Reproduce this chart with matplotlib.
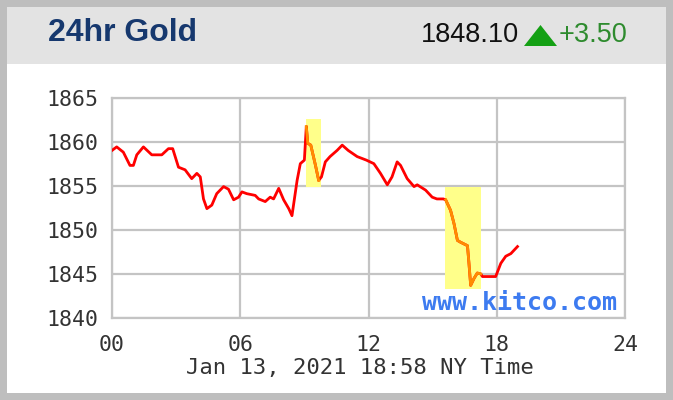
import matplotlib
matplotlib.use("Agg")
import matplotlib.pyplot as plt
from matplotlib.patches import Rectangle, Polygon

# 24hr gold price (hour, price)
horas = [0.0, 0.22, 0.53, 0.84, 1.0, 1.16, 1.47, 1.86, 2.33, 2.64, 2.84, 3.11, 3.42,
         3.73, 3.97, 4.13, 4.28, 4.44, 4.67, 4.9, 5.22, 5.45, 5.69, 5.92, 6.08, 6.3,
         6.7, 6.86, 7.17, 7.4, 7.56, 7.8, 8.03, 8.27, 8.42, 8.66, 8.81, 9.0, 9.09,
         9.16, 9.3, 9.52, 9.67, 9.8, 9.98, 10.2, 10.53, 10.77, 11.05, 11.47, 11.9,
         12.25, 12.56, 12.88, 13.1, 13.34, 13.5, 13.81, 14.13, 14.28, 14.67, 14.98,
         15.2, 15.5, 15.61, 15.84, 16.0, 16.16, 16.3, 16.63, 16.7, 16.78, 16.94,
         17.09, 17.25, 17.33, 17.95, 18.19, 18.42, 18.66, 18.97]
precio = [1859.0, 1859.4, 1858.8, 1857.3, 1857.3, 1858.5, 1859.4, 1858.5, 1858.5,
          1859.2, 1859.2, 1857.1, 1856.8, 1855.8, 1856.4, 1856.0, 1853.5, 1852.4,
          1852.8, 1854.1, 1854.9, 1854.6, 1853.4, 1853.7, 1854.3, 1854.1, 1853.9,
          1853.5, 1853.2, 1853.7, 1853.5, 1854.7, 1853.4, 1852.4, 1851.6, 1855.6,
          1857.5, 1857.9, 1861.7, 1859.8, 1859.6, 1857.3, 1855.6, 1856.0, 1857.7,
          1858.3, 1859.0, 1859.6, 1859.0, 1858.3, 1857.9, 1857.5, 1856.4, 1855.1,
          1856.0, 1857.7, 1857.3, 1855.8, 1854.9, 1855.1, 1854.5, 1853.7, 1853.5,
          1853.5, 1853.4, 1852.2, 1850.7, 1848.8, 1848.6, 1848.2, 1846.2, 1843.7,
          1844.5, 1845.1, 1845.0, 1844.7, 1844.7, 1846.2, 1847.0, 1847.3, 1848.1]

# zonas resaltadas (hora inicio, hora fin, precio min, precio max)
zonas = [(9.08, 9.78, 1854.9, 1862.6), (15.56, 17.28, 1843.3, 1854.9)]

x_ticks = [0, 6, 12, 18, 24]
x_labels = ["00", "06", "12", "18", "24"]
y_ticks = [1840, 1845, 1850, 1855, 1860, 1865]

titulo = "24hr Gold"
ultimo = "1848.10"
cambio = "+3.50"
fecha = "Jan 13, 2021 18:58 NY Time"

W, H = 673, 400
fig = plt.figure(figsize=(W / 100, H / 100), dpi=100)
fig.patch.set_facecolor("#bebebe")

# fondo blanco y franja gris del encabezado
fig.patches.append(Rectangle((7 / W, 7 / H), (W - 14) / W, (H - 14) / H,
                             transform=fig.transFigure, facecolor="white",
                             edgecolor="none", zorder=-2))
fig.patches.append(Rectangle((7 / W, (H - 64) / H), (W - 14) / W, 57 / H,
                             transform=fig.transFigure, facecolor="#e3e3e3",
                             edgecolor="none", zorder=-1))

fig.text(48 / W, 1 - 33 / H, titulo, fontsize=23, fontweight="bold",
         color="#16386e", family="Liberation Sans", va="center", ha="left")
fig.text(519 / W, 1 - 35 / H, ultimo, fontsize=19.5, color="#111111",
         family="Liberation Sans", va="center", ha="right")
fig.patches.append(Polygon([(524 / W, 1 - 46 / H), (557 / W, 1 - 46 / H),
                            (540.5 / W, 1 - 25 / H)], closed=True,
                           transform=fig.transFigure, facecolor="#14a014",
                           edgecolor="none"))
fig.text(559 / W, 1 - 35 / H, cambio, fontsize=19.5, color="#2e8b2e",
         family="Liberation Sans", va="center", ha="left")

ax = fig.add_axes([112 / W, 1 - 318 / H, 513 / W, 220.5 / H])
ax.set_facecolor("white")
ax.set_xlim(0, 24)
ax.set_ylim(1840, 1865)
ax.set_xticks(x_ticks)
ax.set_xticklabels(x_labels)
ax.set_yticks(y_ticks)
ax.grid(True, color="#c4c4c4", linewidth=1.6)
ax.set_axisbelow(True)
for s in ax.spines.values():
    s.set_color("#c4c4c4")
    s.set_linewidth(1.6)
ax.tick_params(length=0, pad=10, labelsize=15.5, labelcolor="#333333")
for lab in ax.get_xticklabels() + ax.get_yticklabels():
    lab.set_family("DejaVu Sans Mono")
ax.tick_params(axis="x", pad=12)

for h0, h1, p0, p1 in zonas:
    ax.add_patch(Rectangle((h0, p0), h1 - h0, p1 - p0, facecolor="#ffff8a",
                           edgecolor="none", zorder=1))

ax.plot(horas, precio, color="#ff0000", linewidth=2, zorder=3)
for h0, h1, p0, p1 in zonas:
    idx = [i for i, h in enumerate(horas) if h0 - 0.01 <= h <= h1 + 0.01]
    ax.plot([horas[i] for i in idx], [precio[i] for i in idx],
            color="#ff8c00", linewidth=2, zorder=4)

ax.text(0.985, 0.07, "www.kitco.com", transform=ax.transAxes, ha="right",
        va="center", fontsize=18, fontweight="bold", color="#3d7bf0",
        family="DejaVu Sans Mono", zorder=5)

fig.text(360 / W, 1 - 368 / H, fecha, fontsize=16, color="#333333",
         family="DejaVu Sans Mono", ha="center", va="center")

fig.savefig("out.png", dpi=100, facecolor=fig.get_facecolor())
